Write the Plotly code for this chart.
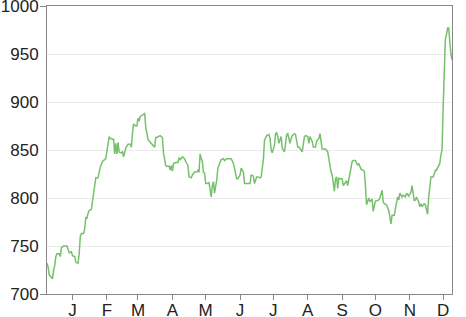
import pandas as pd
import plotly.graph_objects as go

start_date = "2013-12-09"
day_offsets = [
    0, 1, 2, 4, 5, 6, 7, 8, 9, 11, 12, 13, 15, 18, 19, 20, 22, 23, 25, 26, 28, 29, 30, 31, 33, 34, 35, 36, 37, 38,
    40, 41, 43, 44, 46, 48, 50, 53, 54, 56, 57, 60, 61, 62, 63, 64, 65, 67, 68, 69, 71, 73, 75, 76, 77, 78, 80, 81,
    82, 83, 84, 85, 87, 88, 89, 91, 93, 95, 97, 98, 99, 102, 104, 105, 107, 108, 110, 111, 112, 113, 114, 116, 118,
    119, 120, 122, 124, 125, 127, 128, 130, 131, 133, 135, 136, 137, 138, 139, 140, 141, 142, 143, 144, 146, 147,
    148, 149, 150, 151, 153, 154, 156, 157, 159, 160, 162, 166, 168, 169, 171, 172, 174, 175, 177, 178, 181, 183,
    184, 186, 187, 189, 190, 192, 193, 195, 196, 198, 200, 201, 202, 203, 205, 206, 207, 208, 209, 211, 212, 214,
    215, 216, 217, 219, 220, 221, 223, 224, 226, 227, 229, 230, 232, 233, 235, 236, 237, 239, 240, 242, 243, 245,
    246, 247, 248, 250, 251, 253, 254, 256, 257, 258, 259, 260, 261, 262, 263, 264, 266, 267, 268, 270, 271, 273,
    275, 276, 278, 280, 281, 283, 284, 286, 287, 288, 290, 291, 293, 294, 296, 297, 299, 300, 302, 303, 304, 306,
    308, 309, 310, 311, 313, 314, 316, 317, 318, 320, 321, 323, 324, 326, 327, 328, 329, 330, 331, 332, 333, 334,
    335, 336, 337, 338, 339, 340, 341, 343, 344, 345, 346, 348, 350, 351, 353, 354, 355, 356, 357, 358, 359, 360,
    361, 362, 363, 364, 365,
]
values = [
    732, 728, 720, 718, 716, 725, 730, 739, 742, 742, 739, 748, 750, 750, 746, 743, 744, 740, 739, 733, 732, 742,
    760, 763, 763, 768, 780, 779, 784, 787, 788, 798, 813, 821, 821, 832, 838, 841, 850, 864, 862, 861, 846, 857,
    846, 858, 848, 847, 848, 843, 852, 856, 856, 853, 867, 877, 875, 875, 883, 880, 885, 886, 888, 888, 874, 861,
    858, 855, 853, 863, 863, 865, 863, 847, 834, 833, 833, 829, 834, 828, 836, 837, 837, 842, 840, 843, 841, 838,
    834, 822, 821, 824, 827, 827, 829, 827, 846, 841, 838, 827, 826, 815, 815, 816, 810, 801, 813, 817, 805, 819,
    831, 838, 840, 841, 839, 841, 841, 836, 831, 820, 820, 824, 831, 827, 815, 815, 815, 824, 823, 815, 822, 822,
    821, 822, 840, 860, 865, 866, 862, 850, 847, 855, 867, 868, 864, 857, 864, 852, 848, 857, 866, 867, 857, 862,
    865, 867, 866, 853, 853, 850, 848, 864, 865, 864, 857, 864, 859, 853, 853, 859, 862, 867, 857, 851, 851, 851,
    848, 840, 827, 824, 815, 807, 820, 822, 810, 821, 820, 820, 813, 815, 818, 813, 824, 838, 839, 839, 834, 836,
    830, 829, 828, 812, 793, 800, 796, 799, 786, 797, 797, 798, 800, 808, 796, 794, 793, 787, 780, 773, 782, 782,
    789, 801, 798, 805, 801, 803, 801, 805, 802, 804, 806, 813, 803, 797, 798, 801, 798, 796, 791, 794, 791, 793,
    794, 793, 783, 801, 813, 822, 822, 829, 829, 834, 836, 845, 850, 893, 945, 965, 970, 977, 977, 959, 950, 944,
]
month_ticks = ["2014-01-01", "2014-02-01", "2014-03-01", "2014-04-01", "2014-05-01", "2014-06-01",
               "2014-07-01", "2014-08-01", "2014-09-01", "2014-10-01", "2014-11-01", "2014-12-01"]
month_labels = ["J", "F", "M", "A", "M", "J", "J", "A", "S", "O", "N", "D"]
y_ticks = [700, 750, 800, 850, 900, 950, 1000]

dates = pd.to_datetime(start_date) + pd.to_timedelta(day_offsets, unit="D")

fig = go.Figure()
fig.add_trace(go.Scatter(x=dates, y=values, mode="lines",
                         line=dict(color="rgb(118,192,108)", width=1.5),
                         hoverinfo="skip", showlegend=False))

font = dict(family="Liberation Sans, Arial, sans-serif", size=17, color="#222")

fig.update_layout(
    width=466, height=317,
    margin=dict(l=47, r=14, t=6, b=23, pad=0),
    paper_bgcolor="white", plot_bgcolor="white",
    font=font,
    xaxis=dict(type="date", range=["2013-12-09", "2014-12-09"],
               tickmode="array", tickvals=month_ticks, ticktext=month_labels,
               ticks="outside", ticklen=5, tickcolor="#888", tickwidth=1,
               ticklabelstandoff=-4, ticklabeloverflow="allow",
               showline=True, linecolor="#888", linewidth=1, mirror=True,
               showgrid=False, zeroline=False, automargin=False, tickfont=font),
    yaxis=dict(range=[700, 1000], tickmode="array", tickvals=y_ticks,
               ticks="", showline=True, linecolor="#888", linewidth=1, mirror=True,
               showgrid=True, gridcolor="#ebebeb", gridwidth=1, zeroline=False,
               automargin=False, tickfont=font, ticklabelstandoff=4,
               ticklabeloverflow="allow",
               minor=dict(ticks="outside", ticklen=6, tick0=700, dtick=300,
                          tickcolor="#888", showgrid=False)),
)

fig.write_html("out.html")
